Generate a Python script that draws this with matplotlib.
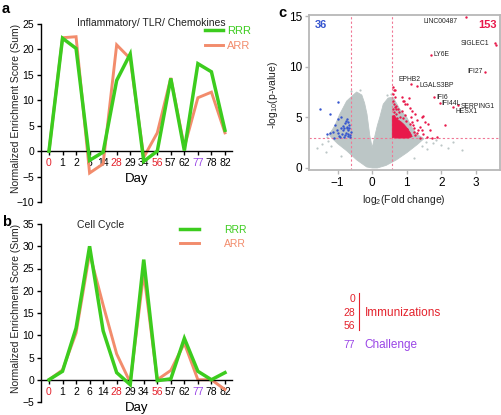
import matplotlib
matplotlib.use("Agg")
import matplotlib.pyplot as plt
from matplotlib.lines import Line2D

plt.rcParams['font.family'] = ['Liberation Sans', 'DejaVu Sans']
plt.rcParams['mathtext.default'] = 'regular'

# ---------------- data ----------------
days = ['0', '1', '2', '6', '14', '28', '29', '34', '56', '57', '62', '77', '78', '82']
immun_days = ['0', '28', '56']
challenge_days = ['77']

a_rrr = [0, 22.2, 20.2, -1.8, -0.2, 13.9, 19.1, -2.0, 0, 14.3, 0.1, 17.2, 15.6, 4.1]
a_arr = [0, 22.3, 22.5, -4.3, -2.5, 20.9, 18.2, -1.2, 3.6, 14.4, 0.8, 10.5, 11.6, 3.6]

b_rrr = [0, 1.9, 11.6, 30.0, 11.0, 1.6, -1.1, 27.0, -0.2, 0.2, 9.3, 1.9, 0, 1.6]
b_arr = [0, 2.2, 10.5, 28.4, 16.8, 5.8, -0.6, 24.0, 0, 2.1, 8.2, 0, 0, -2.2]

# volcano: grey background cloud outline (log2FC, -log10 p)
cloud_x = [0.0, -0.16, -0.45, -0.74, -1.0, -1.18, -1.25, -1.15, -1.08, -0.94, -0.74, -0.55,
           -0.45, -0.3, -0.22, -0.15, -0.07, 0.0, 0.08, 0.15, 0.22, 0.32, 0.46, 0.6, 0.8,
           1.0, 1.15, 1.3, 1.5, 1.3, 1.0, 0.7, 0.4, 0.15]
cloud_y = [0.0, 0.1, 0.8, 1.7, 2.4, 3.0, 3.3, 3.8, 4.2, 5.3, 6.6, 7.2, 7.5, 7.2, 6.4, 5.3,
           3.2, 2.0, 3.2, 4.2, 5.0, 6.3, 6.9, 7.0, 5.8, 5.0, 4.0, 3.3, 2.9, 2.3, 1.5, 0.8,
           0.25, 0.0]
grey_x = [-1.45, -1.6, -1.35, 1.75, 2.0, 2.35, 2.6, 1.6, -0.9, 1.2, -1.3, 1.85, 2.2, -0.6,
          0.55, -1.28, -1.2, 1.45, 1.55, -0.35, 0.42]
grey_y = [2.4, 2.0, 1.6, 2.5, 2.3, 2.6, 1.8, 1.9, 1.2, 1.0, 3.1, 2.8, 2.0, 7.6, 7.3,
          2.7, 2.2, 2.2, 2.6, 7.7, 7.2]

# dense up-regulated core outline
core_x = [0.58, 0.58, 0.64, 0.72, 0.82, 0.92, 1.02, 1.1, 1.16, 1.05, 0.85, 0.7]
core_y = [3.0, 5.1, 5.2, 4.8, 4.6, 4.3, 3.9, 3.5, 3.1, 2.95, 2.95, 2.95]

up_x = [0.60, 0.62, 0.60, 0.65, 0.60, 0.63, 0.66, 0.85, 0.93, 0.95, 1.06, 1.09, 0.75, 0.87,
        1.14, 1.24, 1.43, 1.48, 1.29, 1.53, 1.62, 1.12, 1.16, 1.19, 1.38, 1.48, 1.58, 1.67,
        2.11, 1.87, 1.74, 1.33, 1.38, 0.90, 1.00, 0.70, 0.78, 1.25, 1.02, 0.68, 0.72, 0.95,
        1.30, 1.45, 0.62, 0.80, 0.98, 1.08, 1.20, 0.70, 0.88, 1.22, 0.61, 0.66]
up_y = [8.0, 7.7, 7.3, 7.0, 6.6, 6.3, 7.7, 7.0, 6.6, 6.3, 6.9, 5.9, 5.8, 5.6, 5.6, 5.3, 5.0,
        5.1, 4.7, 4.5, 4.3, 5.0, 4.5, 4.2, 4.0, 3.4, 3.1, 3.7, 4.2, 3.05, 3.0, 3.7, 3.0, 6.6,
        6.3, 6.1, 5.5, 3.3, 3.8, 5.8, 4.9, 5.2, 3.5, 3.7, 5.5, 5.0, 4.6, 4.3, 3.9, 5.3, 4.9,
        3.6, 5.8, 6.0]

down_x = [-1.5, -1.0, -1.23, -0.91, -0.98, -0.74, -1.08, -0.79, -0.70, -0.89, -1.13, -1.23,
          -0.98, -0.84, -0.74, -0.70, -0.79, -0.65, -0.93, -0.82, -0.70, -1.02, -0.86, -0.72,
          -0.66, -0.76, -0.88, -0.95, -0.62, -0.68, -0.75, -0.64, -0.81, -0.71, -1.3, -1.1]
down_y = [5.8, 6.5, 5.3, 5.0, 4.8, 4.8, 4.2, 4.4, 4.5, 3.9, 3.6, 3.5, 3.5, 3.7, 3.9, 3.7, 3.3,
          3.3, 3.1, 3.1, 3.2, 3.7, 4.1, 4.0, 3.9, 3.5, 3.4, 3.2, 3.6, 4.2, 4.6, 3.1, 3.9, 3.4,
          3.4, 3.0]

genes = ['LINC00487', 'SIGLEC1', 'LY6E', 'IFI27', 'EPHB2', 'LGALS3BP', 'IFI6', 'IFI44L',
         'SERPING1', 'HESX1']
gene_x = [2.72, 3.55, 1.70, 3.27, 1.12, 1.30, 1.80, 1.96, 2.47, 2.33]
gene_y = [14.9, 12.3, 11.2, 9.5, 8.3, 8.1, 7.0, 6.4, 6.2, 6.0]
extra_sig_x = [3.59]
extra_sig_y = [12.1]

n_down, n_up = 36, 153
fc_cut = [-0.6, 0.58]
p_cut = 3.0

# ---------------- style ----------------
GREEN = '#3ccc1e'
ORANGE = '#f28c6c'
RED_T = '#e4222c'
PURPLE = '#9a46e6'
GREY = '#bcc6c6'
UP = '#e8194b'
DOWN = '#3655cf'
PINK = '#f07795'

W, H = 501, 415
fig = plt.figure(figsize=(W / 100, H / 100), dpi=100)


def rect(l, t, r, b):
    return [l / W, 1 - b / H, (r - l) / W, (b - t) / H]


def line_panel(ax, rrr, arr, ylim, yticks):
    x = list(range(len(days)))
    ax.plot(x, arr, color=ORANGE, lw=2.1, label='ARR', solid_joinstyle='miter', zorder=2)
    ax.plot(x, rrr, color=GREEN, lw=2.5, label='RRR', solid_joinstyle='miter', zorder=3)
    ax.set_xlim(-0.59, 13.52)
    ax.set_ylim(*ylim)
    ax.set_yticks(yticks)
    ax.set_xticks(x)
    ax.set_xticklabels(days)
    for s in ['top', 'right']:
        ax.spines[s].set_visible(False)
    ax.spines['bottom'].set_position(('data', 0))
    for s in ['bottom', 'left']:
        ax.spines[s].set_linewidth(1.0)
    ax.tick_params(direction='out', length=3, width=1.0, labelsize=7.5, pad=2)
    for lab in ax.get_xticklabels():
        t = lab.get_text()
        if t in immun_days:
            lab.set_color(RED_T)
        elif t in challenge_days:
            lab.set_color(PURPLE)


# panel a
axa = fig.add_axes(rect(41, 24, 232, 202))
line_panel(axa, a_rrr, a_arr, (-10, 25), range(-10, 26, 5))
h = [Line2D([], [], color=GREEN, lw=2.5), Line2D([], [], color=ORANGE, lw=2.1)]
leg = fig.legend(h, ['RRR', 'ARR'], loc='upper left', bbox_to_anchor=(205 / W, 1 - 26 / H),
                 frameon=False, fontsize=8, handlelength=1.6, handletextpad=0.4,
                 borderpad=0, borderaxespad=0, labelspacing=0.45)
for t, c in zip(leg.get_texts(), [GREEN, ORANGE]):
    t.set_color(c)
fig.text(151 / W, 1 - 22.5 / H, 'Inflammatory/ TLR/ Chemokines', ha='center', va='center',
         fontsize=7.5, color='#222222')
fig.text(137 / W, 1 - 179 / H, 'Day', ha='center', va='center', fontsize=9.5)
fig.text(16 / W, 1 - 108 / H, 'Normalized Enrichment Score (Sum)', rotation=90,
         ha='center', va='center', fontsize=7.5, color='#222222')
fig.text(2 / W, 1 - 9 / H, 'a', fontsize=10.5, fontweight='bold', ha='left', va='center')

# panel b
axb = fig.add_axes(rect(41, 224, 232, 402))
line_panel(axb, b_rrr, b_arr, (-5, 35), range(-5, 36, 5))
leg = fig.legend(h, ['RRR', 'ARR'], loc='upper left', bbox_to_anchor=(180 / W, 1 - 225 / H),
                 frameon=False, fontsize=7.5, handlelength=1.8, handletextpad=2.4,
                 borderpad=0, borderaxespad=0, labelspacing=0.35)
for t, c in zip(leg.get_texts(), [GREEN, ORANGE]):
    t.set_color(c)
fig.text(101 / W, 1 - 225 / H, 'Cell Cycle', ha='center', va='center', fontsize=7.5,
         color='#222222')
fig.text(137 / W, 1 - 408 / H, 'Day', ha='center', va='center', fontsize=9.5)
fig.text(16 / W, 1 - 308 / H, 'Normalized Enrichment Score (Sum)', rotation=90,
         ha='center', va='center', fontsize=7.5, color='#222222')
fig.text(2 / W, 1 - 222 / H, 'b', fontsize=10.5, fontweight='bold', ha='left', va='center')

# panel c
axc = fig.add_axes(rect(309, 15, 500, 170))
axc.fill(cloud_x, cloud_y, color=GREY, lw=0.6, ec=GREY, zorder=1)
axc.scatter(grey_x, grey_y, s=2.5, color=GREY, lw=0, zorder=1)
axc.fill(core_x, core_y, color=UP, lw=0.5, ec=UP, zorder=3)
axc.scatter(up_x, up_y, s=3, color=UP, lw=0, zorder=3)
axc.scatter(down_x, down_y, s=3, color=DOWN, lw=0, zorder=3)
axc.scatter(gene_x + extra_sig_x, gene_y + extra_sig_y, s=3, color=UP, lw=0, zorder=3)
for v in fc_cut:
    axc.axvline(v, color=PINK, lw=0.8, ls=(0, (2, 2)), zorder=2)
axc.axhline(p_cut, color=PINK, lw=0.8, ls=(0, (2, 2)), zorder=2)

offsets = {
    'LINC00487': (-6, -3, 'right'), 'SIGLEC1': (-4, 0, 'right'), 'LY6E': (2, 0, 'left'),
    'IFI27': (-1.5, 0, 'right'), 'EPHB2': (-1, 3, 'center'), 'LGALS3BP': (1.5, 0, 'left'),
    'IFI6': (1.2, 0, 'left'), 'IFI44L': (1.2, 0, 'left'), 'SERPING1': (2.5, -0.7, 'left'),
    'HESX1': (2, -3.2, 'left'),
}
for g, gx, gy in zip(genes, gene_x, gene_y):
    dx, dy, ha = offsets[g]
    axc.annotate(g, (gx, gy), xytext=(dx, dy), textcoords='offset points', ha=ha,
                 va='center', fontsize=4.9, color='#222222', zorder=4)

axc.set_xlim(-1.83, 3.7)
axc.set_ylim(-0.2, 15.1)
axc.set_xticks([-1, 0, 1, 2, 3])
axc.set_yticks([0, 5, 10, 15])
for s in axc.spines.values():
    s.set_color('#b8b8b8')
    s.set_linewidth(1.3)
axc.tick_params(direction='out', length=3, width=1.0, color='#b8b8b8', labelsize=8.5, pad=2)
axc.text(0.031, 0.935, str(n_down), transform=axc.transAxes, ha='left', va='center',
         fontsize=8, fontweight='bold', color=DOWN)
axc.text(0.984, 0.935, str(n_up), transform=axc.transAxes, ha='right', va='center',
         fontsize=8, fontweight='bold', color=UP)
fig.text(404 / W, 1 - 200 / H, 'log$_2$(Fold change)', ha='center', va='center', fontsize=7.5,
         color='#222222')
fig.text(273 / W, 1 - 95 / H, '-log$_{10}$(p-value)', rotation=90, ha='center', va='center',
         fontsize=7.5, color='#222222')
fig.text(282 / W, 1 - 13 / H, 'c', fontsize=10.5, fontweight='bold', ha='center', va='center')

# day-code key
for i, d in enumerate(immun_days):
    fig.text(355 / W, 1 - (299 + 13.5 * i) / H, d, ha='right', va='center', fontsize=7.5,
             color=RED_T)
fig.add_artist(Line2D([359 / W, 359 / W], [1 - 293 / H, 1 - 330 / H], color=RED_T, lw=0.8))
fig.text(365 / W, 1 - 313 / H, 'Immunizations', ha='left', va='center', fontsize=8.5,
         color=RED_T)
fig.text(355 / W, 1 - 345 / H, challenge_days[0], ha='right', va='center', fontsize=7.5,
         color=PURPLE)
fig.text(364 / W, 1 - 345 / H, 'Challenge', ha='left', va='center', fontsize=8.5,
         color=PURPLE)

fig.savefig('out.png', dpi=100)
